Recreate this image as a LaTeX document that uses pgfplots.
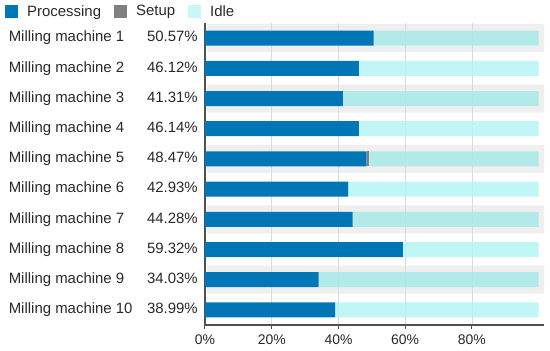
\documentclass[border=0pt]{standalone}
\usepackage{pgfplots}
\usepackage{pgfplotstable}
\pgfplotsset{compat=1.18}
\usepackage{fontspec}
\setmainfont{Liberation Sans}
\definecolor{proc}{RGB}{0,118,183}
\definecolor{setupc}{RGB}{128,128,128}
\definecolor{idleW}{RGB}{181,244,244}
\definecolor{idleG}{RGB}{168,234,232}
\definecolor{idleL}{RGB}{192,246,246}
\definecolor{band}{RGB}{239,239,239}
\definecolor{axline}{RGB}{80,80,80}
\definecolor{txt}{RGB}{40,40,40}
\definecolor{gridc}{RGB}{218,218,218}
\newcommand{\lab}[2]{\makebox[189bp][l]{#1\hfill#2}}
\pgfplotstableread{
row proc setup idleodd idleeven
1 50.57 0 49.43 0
2 46.12 0 0 53.88
3 41.31 0 58.69 0
4 46.14 0 0 53.86
5 48.47 0.8 50.73 0
6 42.93 0 0 57.07
7 44.28 0 55.72 0
8 59.32 0 0 40.68
9 34.03 0 65.97 0
10 38.99 0 0 61.01
}\data
\pgfplotstableread{
row gap band
1 0.6 101.0
3 0.6 101.0
5 0.6 101.0
7 0.6 101.0
9 0.6 101.0
}\bands
\begin{document}
\begin{tikzpicture}
\begin{axis}[
  scale only axis, width=339bp, height=302bp,
  xbar stacked, bar width=28bp,
  xmin=0, xmax=101.6, ymin=0.5, ymax=10.5, y dir=reverse,
  hide axis,
]
\addplot[draw=none, fill=none] table[x=gap, y=row] {\bands};
\addplot[draw=none, fill=band] table[x=band, y=row] {\bands};
\end{axis}
\begin{axis}[
  name=ax,
  scale only axis, width=339bp, height=302bp,
  xbar stacked, bar width=15bp,
  xmin=0, xmax=101.6, ymin=0.5, ymax=10.5, y dir=reverse,
  axis x line*=bottom, axis y line*=left,
  axis line style={axline, line width=1.2bp, -},
  xtick={0,20,40,60,80}, xticklabels={0\%,20\%,40\%,60\%,80\%},
  ytick={1,...,10},
  yticklabels={
    \lab{Milling machine 1}{50.57\%},
    \lab{Milling machine 2}{46.12\%},
    \lab{Milling machine 3}{41.31\%},
    \lab{Milling machine 4}{46.14\%},
    \lab{Milling machine 5}{48.47\%},
    \lab{Milling machine 6}{42.93\%},
    \lab{Milling machine 7}{44.28\%},
    \lab{Milling machine 8}{59.32\%},
    \lab{Milling machine 9}{34.03\%},
    \lab{Milling machine 10}{38.99\%}},
  xmajorgrids, grid style={gridc, line width=0.8bp},
  tick align=outside, major tick length=4bp,
  x tick style={axline, line width=1bp},
  y tick style={draw=none},
  xticklabel style={font=\fontsize{14}{16}\selectfont, text=txt, yshift=-2bp},
  yticklabel style={font=\fontsize{15}{17}\selectfont, text=txt, anchor=east, inner sep=0pt, xshift=-3bp},
  legend columns=3,
  legend style={at={(axis description cs:-0.590,1.038)}, anchor=west, draw=none, fill=none,
    inner sep=0pt, font=\fontsize{15}{17}\selectfont, text=txt,
    /tikz/every odd column/.append style={column sep=7bp},
    /tikz/every even column/.append style={column sep=11bp}},
  sq/.style={legend image code/.code={\fill[##1] (0bp,-6.5bp) rectangle (13bp,6.5bp);}},
]
\addplot[fill=proc, draw=none, sq] table[x=proc, y=row] {\data};
\addlegendentry{Processing}
\addplot[fill=setupc, draw=none, sq] table[x=setup, y=row] {\data};
\addlegendentry{Setup}
\addplot[fill=idleG, fill opacity=0.85, draw=none, forget plot] table[x=idleodd, y=row] {\data};
\addplot[fill=idleW, fill opacity=0.85, draw=none, sq, legend image code/.code={\fill[idleL] (0bp,-6.5bp) rectangle (13bp,6.5bp);}] table[x=idleeven, y=row] {\data};
\addlegendentry{Idle}
\end{axis}
\path ([shift={(-205bp,-26bp)}]ax.south west) rectangle ([shift={(6bp,23bp)}]ax.north east);
\end{tikzpicture}
\end{document}
